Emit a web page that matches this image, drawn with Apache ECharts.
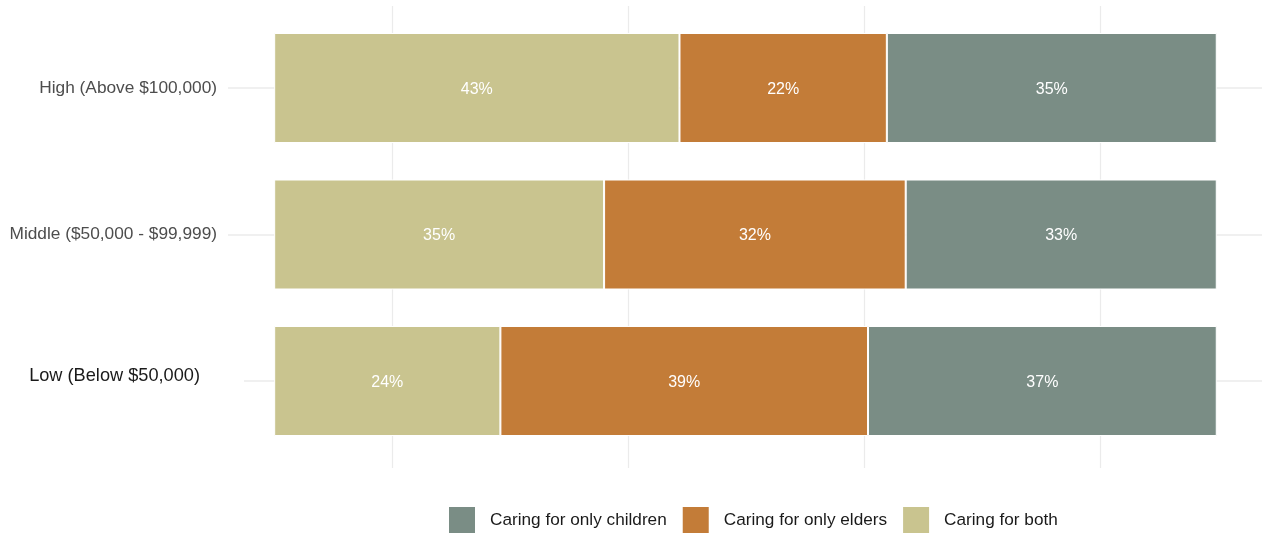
<!DOCTYPE html>
<html>
<head>
<meta charset="utf-8">
<script src="https://cdn.jsdelivr.net/npm/echarts@6/dist/echarts.min.js"></script>
<style>
html,body{margin:0;padding:0;background:#fff;}
#chart{width:1262px;height:533px;}
</style>
</head>
<body>
<div id="chart"></div>
<script>
const categories = ['High (Above $100,000)', 'Middle ($50,000 - $99,999)', 'Low (Below $50,000)'];
const seriesNames = ['Caring for only children', 'Caring for only elders', 'Caring for both'];
const both = [43, 35, 24];
const elders = [22, 32, 39];
const children = [35, 33, 37];
const gridTicks = [0, 1, 2, 3];

const colors = {
  'Caring for only children': '#7A8D85',
  'Caring for only elders': '#C37C38',
  'Caring for both': '#C9C48F'
};
const FONT = '"Liberation Sans", Arial, sans-serif';
const gridColor = '#EBEBEB';
const X_MIN = -4.9, X_MAX = 104.8;

function barSeries(name, data, extra) {
  return Object.assign({
    name: name,
    type: 'bar',
    stack: 'total',
    xAxisIndex: 0,
    yAxisIndex: 0,
    barWidth: 110,
    data: data,
    itemStyle: { color: colors[name], borderColor: '#ffffff', borderWidth: 1 },
    label: {
      show: true,
      position: 'inside',
      color: '#ffffff',
      fontSize: 16,
      fontFamily: FONT,
      offset: [0, 1.5],
      formatter: p => p.value + '%'
    },
    emphasis: { disabled: true }
  }, extra || {});
}

const chart = echarts.init(document.getElementById('chart'), null, { renderer: 'canvas' });
chart.setOption({
  animation: false,
  backgroundColor: '#ffffff',
  textStyle: { fontFamily: FONT },
  grid: [
    { left: 228, right: 0, top: 14.75, bottom: 78.75, containLabel: false },
    { left: 392, right: 162, top: 6, bottom: 65, containLabel: false }
  ],
  xAxis: [
    { type: 'value', gridIndex: 0, min: X_MIN, max: X_MAX, show: false },
    {
      type: 'value', gridIndex: 1, min: gridTicks[0], max: gridTicks[gridTicks.length - 1], interval: 1,
      axisLine: { show: false }, axisTick: { show: false }, axisLabel: { show: false },
      splitLine: { show: true, lineStyle: { color: gridColor, width: 1.2 } }
    }
  ],
  yAxis: [
    {
      type: 'category', gridIndex: 0, data: categories, inverse: true,
      axisLine: { show: false }, axisTick: { show: false }, splitLine: { show: false },
      axisLabel: {
        margin: 11,
        fontSize: 17.3,
        color: '#4D4D4D',
        fontFamily: FONT,
        formatter: v => v.indexOf('Low') === 0 ? '{low|' + v + '}' : v,
        rich: {
          low: { fontSize: 18.2, color: '#1A1A1A', fontFamily: FONT, padding: [0, 17, 10, 0] }
        }
      }
    },
    { type: 'value', gridIndex: 1, min: 0, max: 1, show: false }
  ],
  legend: {
    top: 500,
    left: 442,
    padding: 5,
    data: seriesNames,
    icon: 'rect',
    itemWidth: 28,
    itemHeight: 28,
    itemGap: 14,
    textStyle: { fontSize: 17.2, color: '#1A1A1A', fontFamily: FONT, padding: [0, 0, 0, 9] },
    selectedMode: false
  },
  series: [
    barSeries('Caring for both', both, {
      markLine: {
        z: 1,
        silent: true,
        symbol: 'none',
        label: { show: false },
        lineStyle: { color: gridColor, width: 1.5, type: 'solid' },
        data: [
          [{ coord: [X_MIN, categories[0]] }, { coord: [X_MAX, categories[0]] }],
          [{ coord: [X_MIN, categories[1]] }, { coord: [X_MAX, categories[1]] }],
          [{ coord: [-3.2, categories[2]] }, { coord: [X_MAX, categories[2]] }]
        ]
      }
    }),
    barSeries('Caring for only elders', elders),
    barSeries('Caring for only children', children),
    { type: 'scatter', xAxisIndex: 1, yAxisIndex: 1, data: [], silent: true }
  ]
});
</script>
</body>
</html>
